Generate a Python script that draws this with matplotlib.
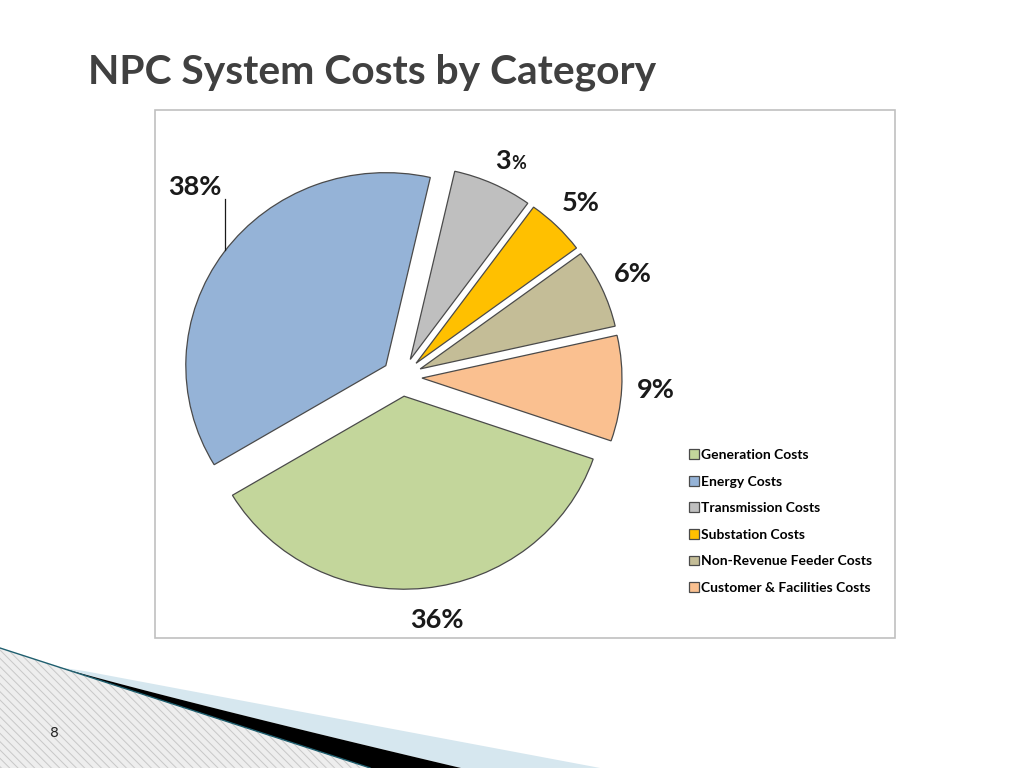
import numpy as np
import matplotlib
matplotlib.use("Agg")
import matplotlib.pyplot as plt
from matplotlib.patches import Polygon, Rectangle

# ---------------------------------------------------------------------------
# Data
# ---------------------------------------------------------------------------
categories = [
    "Generation Costs",
    "Energy Costs",
    "Transmission Costs",
    "Substation Costs",
    "Non-Revenue Feeder Costs",
    "Customer & Facilities Costs",
]
# slice sizes as drawn (the gray slice is drawn larger than its "3%" label)
shares = [36.0, 37.0, 6.4, 4.8, 6.6, 8.8]
pct_labels = ["36%", "38%", "3%", "5%", "6%", "9%"]

colors = ["#c3d69b", "#95b3d7", "#bfbfbf", "#ffc000", "#c4bd97", "#fac090"]

FONT = "Lato"
plt.rcParams["font.family"] = [FONT, "DejaVu Sans"]
plt.rcParams["hatch.linewidth"] = 0.7

fig = plt.figure(figsize=(10.24, 7.68), dpi=100)
fig.patch.set_facecolor("white")

# background layer in pixel coordinates (decorations, chart frame)
bg = fig.add_axes([0, 0, 1, 1])
bg.set_xlim(0, 1024)
bg.set_ylim(768, 0)
bg.axis("off")

# slide decoration, bottom left: hatched swoosh, black band, light blue band
def hatch_y(x):
    return 648 + 0.324 * x

hx = np.linspace(0, 370, 60)
bx = np.linspace(60, 461, 60)
by = hatch_y(bx) - (hatch_y(461) - 768) * ((bx - 60) / 401) ** 1.2
ux = np.linspace(85, 600, 40)
uy = 673 + 0.188 * (ux - 95)

bg.add_patch(Polygon(np.column_stack([np.r_[0, hx], np.r_[768, hatch_y(hx)]]),
                     closed=True, facecolor="#eeeeee", edgecolor="#c8c8c8",
                     hatch="\\\\\\\\", lw=0, zorder=1))
bg.add_patch(Polygon(np.column_stack([np.r_[ux, bx[::-1]], np.r_[uy, by[::-1]]]),
                     closed=True, facecolor="#d6e7ef", edgecolor="none",
                     zorder=2))
hx2 = hx[hx >= 60][::-1]
bg.add_patch(Polygon(np.column_stack([np.r_[bx, 370, hx2], np.r_[by, 768, hatch_y(hx2)]]),
                     closed=True, facecolor="black", edgecolor="none",
                     zorder=3))
bg.plot(hx, hatch_y(hx), color="#1f5f6f", lw=1.0, zorder=4)

# chart frame
bg.add_patch(Rectangle((155, 110), 740, 528, facecolor="white",
                       edgecolor="#c0c0c0", lw=1.2, zorder=0))

# ---------------------------------------------------------------------------
# Pie
# ---------------------------------------------------------------------------
cx, cy, rx, ry = 402, 377, 200, 193   # pixel center / radii of the pie
half = 1.45
ax = fig.add_axes([(cx - half * rx) / 1024, (768 - cy - half * ry) / 768,
                   2 * half * rx / 1024, 2 * half * ry / 768])
wedges, _ = ax.pie(
    shares, colors=colors, startangle=-19, counterclock=False,
    explode=[0.1] * len(shares),
    wedgeprops=dict(edgecolor="#4a4a4a", linewidth=0.9),
)
ax.set_aspect("auto")
ax.set_xlim(-half, half)
ax.set_ylim(-half, half)
ax.axis("off")

label_fs = 19.5
txt = dict(fontsize=label_fs, fontweight="bold", color="#1a1a1a")
for i, (w, lab) in enumerate(zip(wedges, pct_labels)):
    a = np.deg2rad((w.theta1 + w.theta2) / 2)
    wx, wy = w.center
    if i == 1:
        # Energy label sits out to the upper left with a leader line
        a = np.deg2rad(136)
        tx, ty = wx + 1.33 * np.cos(a), wy + 1.33 * np.sin(a)
        ax.text(tx, ty, lab, ha="center", va="center", **txt)
        lx = tx + 0.155
        ly_end = wy + np.sqrt(1 - (lx - wx) ** 2)
        ax.plot([lx, lx], [ty - 0.06, ly_end], color="#1a1a1a", lw=0.9)
        continue
    if i == 0:
        a += np.deg2rad(2)
    tx, ty = wx + 1.17 * np.cos(a), wy + 1.17 * np.sin(a)
    if lab == "3%":
        ax.text(tx + 0.02, ty - 0.08, "3", ha="right", va="baseline", **txt)
        ax.text(tx + 0.02, ty - 0.08, "%", ha="left", va="baseline",
                fontsize=13, fontweight="bold", color="#1a1a1a")
    else:
        ax.text(tx, ty, lab, ha="center", va="center", **txt)

fig.legend(wedges, categories, loc="upper left",
           bbox_to_anchor=(682 / 1024, 1 - 442 / 768),
           frameon=False, borderpad=0, handlelength=0.7, handleheight=0.7,
           handletextpad=0.2, labelspacing=1.05,
           prop=dict(family=FONT, weight="bold", size=10))

# ---------------------------------------------------------------------------
# Slide text
# ---------------------------------------------------------------------------
fig.text(88 / 1024, 1 - 72 / 768, "NPC System Costs by Category",
         ha="left", va="center", fontsize=29.3, fontweight="bold",
         color="#404040")
fig.text(54 / 1024, 1 - 733 / 768, "8", ha="center", va="center",
         fontsize=10, color="#222222", family="DejaVu Sans")

fig.savefig("out.png", dpi=100)
